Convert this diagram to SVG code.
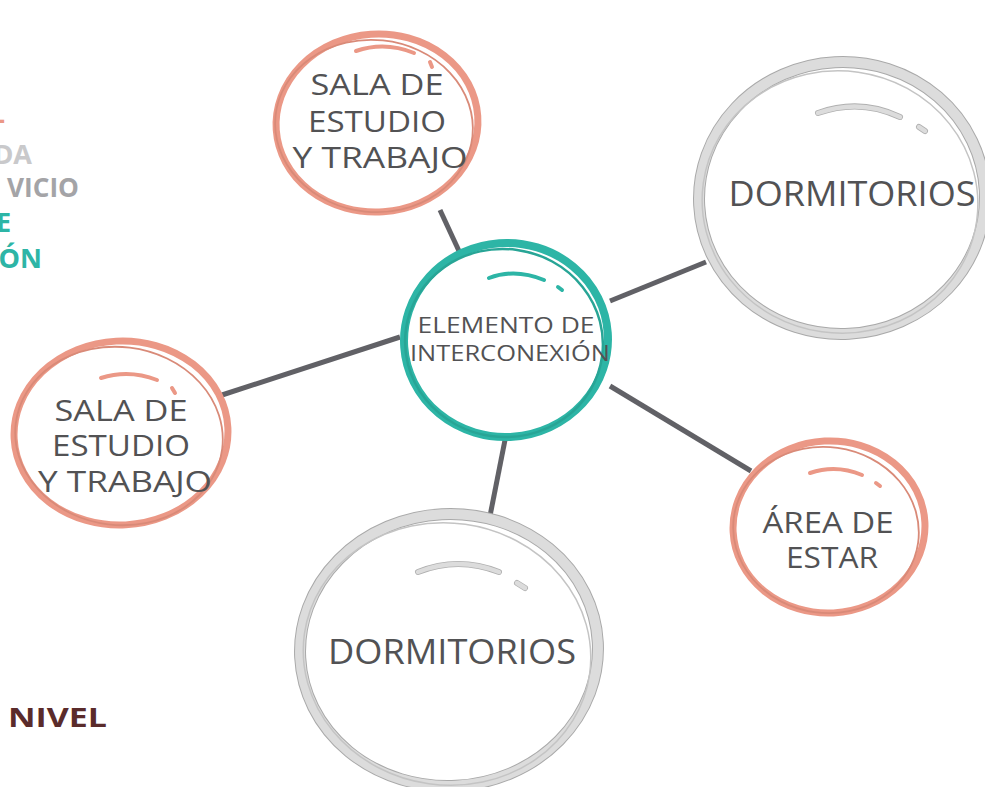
<svg xmlns="http://www.w3.org/2000/svg" width="985" height="787" viewBox="0 0 985 787">
<style>
.lbl{font-family:"Open Sans","Liberation Sans",sans-serif;fill:#525254;text-anchor:middle;}
.side{font-family:"Open Sans","Liberation Sans",sans-serif;font-weight:700;font-size:27px;text-anchor:end;}
.conn{stroke:#616166;stroke-width:5;fill:none;}
.pk{fill:#fff;stroke:#eb9886;stroke-width:7;}
.pk2{fill:none;stroke:#d98a78;stroke-width:1.8;}
.pkh{fill:none;stroke:#eb9886;stroke-width:4;stroke-linecap:round;}
.tl{fill:#fff;stroke:#2db5a6;stroke-width:8;}
.tl2{fill:none;stroke:#28a596;stroke-width:2.5;}
.tlh{fill:none;stroke:#2db5a6;stroke-width:4;stroke-linecap:round;}
.gyo{fill:#fff;stroke:#a9a9a9;stroke-width:12;}
.gy{fill:none;stroke:#dcdcdc;stroke-width:10;}
.gy2{fill:none;stroke:#c4c4c4;stroke-width:1.5;}
.gyho{fill:none;stroke:#b0b0b0;stroke-width:6;stroke-linecap:round;}
.gyh{fill:none;stroke:#dcdcdc;stroke-width:4.5;stroke-linecap:round;}
</style>

<g id="leftText">
<text class="side" x="5" y="129" fill="#eb9886" font-size="16">-</text>
<text class="side" x="32" y="164" fill="#c9c9cb">DA</text>
<text class="side" x="79" y="197" fill="#a4a4a7" textLength="72" lengthAdjust="spacingAndGlyphs">VICIO</text>
<text class="side" x="11" y="232" fill="#2db5a6">E</text>
<text class="side" x="42" y="268" fill="#2db5a6">ÓN</text>
<text x="8" y="727" font-family="'Open Sans','Liberation Sans',sans-serif" font-weight="700" font-size="26" fill="#5a2b2b" textLength="99" lengthAdjust="spacingAndGlyphs">NIVEL</text>
</g>

<g id="connectors">
<line class="conn" x1="440" y1="210" x2="459" y2="251"/>
<line class="conn" x1="610" y1="301" x2="706" y2="262"/>
<line class="conn" x1="222" y1="395" x2="400" y2="337"/>
<line class="conn" x1="610" y1="386" x2="751" y2="471"/>
<line class="conn" x1="505" y1="440" x2="490" y2="516"/>
</g>

<g id="sala-top">
<ellipse class="pk" cx="377" cy="123" rx="101" ry="89" transform="rotate(-4 377 123)"/>
<ellipse class="pk2" cx="374" cy="126" rx="99" ry="86" transform="rotate(6 374 126)"/>
<path class="pkh" d="M356 51 Q385 41 414 53"/>
<path class="pkh" d="M430 62 L432 67"/>
<text class="lbl" font-size="30" x="377" y="95" textLength="133" lengthAdjust="spacingAndGlyphs">SALA DE</text>
<text class="lbl" font-size="30" x="377" y="132" textLength="138" lengthAdjust="spacingAndGlyphs">ESTUDIO</text>
<text class="lbl" font-size="30" x="380" y="168" textLength="175" lengthAdjust="spacingAndGlyphs">Y TRABAJO</text>
</g>

<g id="dorm-right">
<ellipse class="gyo" cx="842" cy="198" rx="143" ry="136" transform="rotate(-3 842 198)"/>
<ellipse class="gy" cx="842" cy="198" rx="143" ry="136" transform="rotate(-3 842 198)"/>
<ellipse class="gy2" cx="840" cy="202" rx="138" ry="131" transform="rotate(8 840 202)"/>
<path class="gyho" d="M818 113 Q860 98 900 117"/>
<path class="gyh" d="M818 113 Q860 98 900 117"/>
<path class="gyho" d="M919 127 L925 131"/>
<path class="gyh" d="M919 127 L925 131"/>
<text class="lbl" font-size="35" x="852" y="206" textLength="247" lengthAdjust="spacingAndGlyphs">DORMITORIOS</text>
</g>

<g id="sala-left">
<ellipse class="pk" cx="121" cy="433" rx="107" ry="92" transform="rotate(-3 121 433)"/>
<ellipse class="pk2" cx="119" cy="436" rx="104" ry="89" transform="rotate(7 119 436)"/>
<path class="pkh" d="M101 378 Q129 369 157 380"/>
<path class="pkh" d="M172 388 L175 393"/>
<text class="lbl" font-size="30" x="121" y="421" textLength="133" lengthAdjust="spacingAndGlyphs">SALA DE</text>
<text class="lbl" font-size="30" x="121" y="456" textLength="138" lengthAdjust="spacingAndGlyphs">ESTUDIO</text>
<text class="lbl" font-size="30" x="125" y="492" textLength="174" lengthAdjust="spacingAndGlyphs">Y TRABAJO</text>
</g>

<g id="interconexion">
<ellipse class="tl" cx="506" cy="340" rx="102" ry="97" transform="rotate(-4 506 340)"/>
<ellipse class="tl2" cx="504" cy="343" rx="99" ry="94" transform="rotate(8 504 343)"/>
<path class="tlh" d="M489 278 Q515 268 544 280"/>
<path class="tlh" d="M558 287 L562 290"/>
<text class="lbl" font-size="22" x="506" y="333" textLength="177" lengthAdjust="spacingAndGlyphs">ELEMENTO DE</text>
<text class="lbl" font-size="22" x="510" y="361" textLength="200" lengthAdjust="spacingAndGlyphs">INTERCONEXIÓN</text>
</g>

<g id="area-estar">
<ellipse class="pk" cx="829" cy="527" rx="96" ry="86" transform="rotate(-3 829 527)"/>
<ellipse class="pk2" cx="826" cy="530" rx="93" ry="83" transform="rotate(8 826 530)"/>
<path class="pkh" d="M810 473 Q836 464 862 475"/>
<path class="pkh" d="M876 483 L880 486"/>
<text class="lbl" font-size="30" x="828" y="533" textLength="131" lengthAdjust="spacingAndGlyphs">ÁREA DE</text>
<text class="lbl" font-size="30" x="832" y="568" textLength="92" lengthAdjust="spacingAndGlyphs">ESTAR</text>
</g>

<g id="dorm-bottom">
<ellipse class="gyo" cx="449" cy="650" rx="149" ry="136" transform="rotate(-3 449 650)"/>
<ellipse class="gy" cx="449" cy="650" rx="149" ry="136" transform="rotate(-3 449 650)"/>
<ellipse class="gy2" cx="447" cy="654" rx="144" ry="131" transform="rotate(8 447 654)"/>
<path class="gyho" d="M418 572 Q458 556 499 572"/>
<path class="gyh" d="M418 572 Q458 556 499 572"/>
<path class="gyho" d="M517 583 L525 588"/>
<path class="gyh" d="M517 583 L525 588"/>
<text class="lbl" font-size="35" x="452" y="664" textLength="248" lengthAdjust="spacingAndGlyphs">DORMITORIOS</text>
</g>
</svg>
